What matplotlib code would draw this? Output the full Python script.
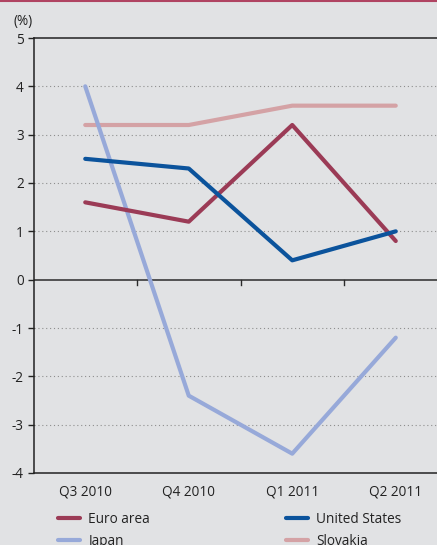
import matplotlib.pyplot as plt
import numpy as np

# quarterly values
quarters = ['Q3 2010', 'Q4 2010', 'Q1 2011', 'Q2 2011']
euro_area = [1.6, 1.2, 3.2, 0.8]
united_states = [2.5, 2.3, 0.4, 1.0]
japan = [4.0, -2.4, -3.6, -1.2]
slovakia = [3.2, 3.2, 3.6, 3.6]

bg = '#e1e2e4'
plt.rcParams['font.family'] = ['Open Sans', 'DejaVu Sans']

fig = plt.figure(figsize=(4.37, 5.45), dpi=100, facecolor=bg)
ax = fig.add_axes([33.5 / 437, 1 - 473 / 545, 414 / 437, 435 / 545])
ax.set_facecolor(bg)

x = np.arange(len(quarters))
l_euro, = ax.plot(x, euro_area, color='#9b3b56', lw=3, solid_capstyle='round', zorder=4)
l_us, = ax.plot(x, united_states, color='#0b539c', lw=3, solid_capstyle='round', zorder=5)
l_jp, = ax.plot(x, japan, color='#97a9d9', lw=3, solid_capstyle='round', zorder=3)
l_sk, = ax.plot(x, slovakia, color='#d4a2a5', lw=3, solid_capstyle='round', zorder=2)

ax.set_xlim(-0.5, len(quarters) - 0.5)
ax.set_ylim(-4, 5)
ax.set_yticks(range(-4, 6))
ax.set_yticklabels([str(v) for v in range(-4, 6)])

# dotted gridlines, solid zero line
for v in range(-3, 5):
    if v == 0:
        continue
    ax.axhline(v, color='#8e8e8e', lw=0.8, ls=(0, (1, 2.5)), zorder=1)
ax.axhline(0, color='#2b2b2b', lw=1.1, zorder=1)

# small ticks at the category boundaries on the zero line
for b in x[1:] - 0.5:
    ax.plot([b, b], [0, -0.1], color='#2b2b2b', lw=1, zorder=1)

ax.set_xticks(x)
ax.set_xticklabels(quarters)
ax.tick_params(axis='x', length=0, pad=8, labelsize=9.8, colors='#222222')
ax.tick_params(axis='y', length=4, width=1, direction='out', pad=3, labelsize=9.8,
               colors='#222222')

for side in ['left', 'top', 'bottom']:
    ax.spines[side].set_color('#222222')
    ax.spines[side].set_linewidth(1.1)
ax.spines['right'].set_visible(False)

fig.text(13 / 437, 1 - 22 / 545, '(%)', fontsize=9.8, color='#222222', va='center')

# thin red rule along the top edge
fig.add_artist(plt.Line2D([0, 1], [1 - 0.8 / 545, 1 - 0.8 / 545], color='#b04462', lw=1.5))

leg_kw = dict(frameon=False, fontsize=9.8, handlelength=1.6, handletextpad=0.6,
              labelspacing=0.5, borderpad=0, borderaxespad=0, loc='upper left')
leg1 = fig.legend([l_euro, l_jp], ['Euro area', 'Japan'],
                  bbox_to_anchor=(58 / 437, 1 - 512 / 545), **leg_kw)
leg2 = fig.legend([l_us, l_sk], ['United States', 'Slovakia'],
                  bbox_to_anchor=(286 / 437, 1 - 512 / 545), **leg_kw)
for leg in (leg1, leg2):
    for t in leg.get_texts():
        t.set_color('#222222')

fig.savefig('out.png', dpi=100, facecolor=bg)
